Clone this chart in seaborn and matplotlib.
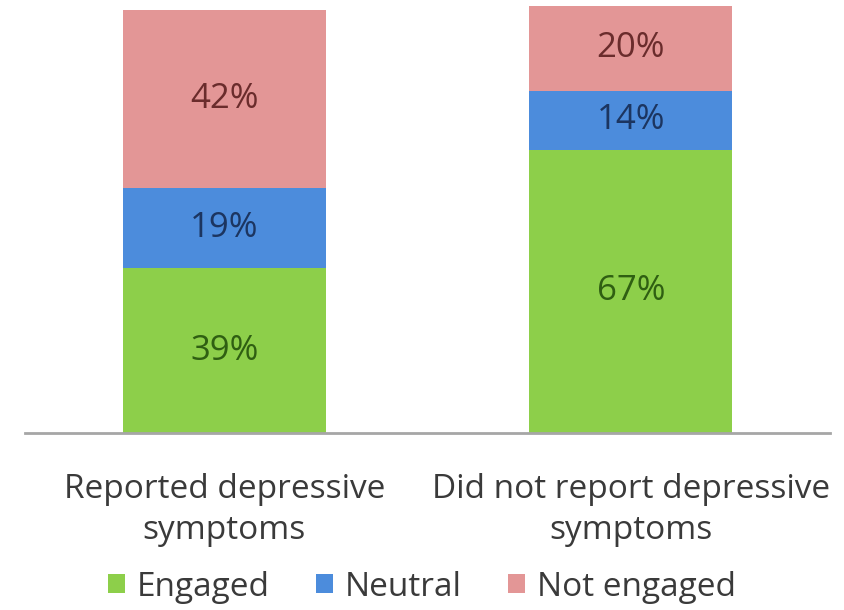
import numpy as np
import pandas as pd
import matplotlib
matplotlib.use("Agg")
import matplotlib.pyplot as plt
import seaborn as sns
from matplotlib.patches import Patch

groups = ["Reported depressive\nsymptoms", "Did not report depressive\nsymptoms"]
engaged = [39, 67]
neutral = [19, 14]
not_engaged = [42, 20]

series_names = ["Engaged", "Neutral", "Not engaged"]
fill_colors = ["#8DCF4A", "#4C8CDC", "#E39696"]
text_colors = ["#2F5F12", "#1C3560", "#6A2C2C"]

sns.set_theme(style="white")
plt.rcParams["font.family"] = ["Open Sans", "DejaVu Sans"]

df = pd.DataFrame({
    "group": groups,
    "Engaged": engaged,
    "Neutral": neutral,
    "Not engaged": not_engaged,
})
layers = [df["Engaged"].to_numpy(), df["Neutral"].to_numpy(), df["Not engaged"].to_numpy()]
tops = np.cumsum(layers, axis=0)

fig = plt.figure(figsize=(8.44, 6.10), dpi=100)
ax = fig.add_axes([25 / 844, (610 - 433) / 610, (830 - 25) / 844, (433 - 6) / 610])

# Stack by drawing cumulative totals from the top layer down
for i in reversed(range(3)):
    sns.barplot(x=df["group"], y=tops[i], color=fill_colors[i], width=0.5,
                saturation=1, ax=ax, edgecolor="none", linewidth=0)

for i in range(3):
    bottoms = tops[i] - layers[i]
    for j in range(len(groups)):
        ax.text(j, bottoms[j] + layers[i][j] / 2, f"{layers[i][j]}%",
                ha="center", va="center", fontsize=25, color=text_colors[i])

ax.set_xlim(-0.49, 1.49)
ax.set_ylim(0, 101)
ax.set_xlabel("")
ax.set_ylabel("")
ax.set_yticks([])
for side in ["top", "right", "left"]:
    ax.spines[side].set_visible(False)
ax.spines["bottom"].set_color("#A6A6A6")
ax.spines["bottom"].set_linewidth(2)
ax.tick_params(axis="x", length=0, pad=29, labelsize=24, labelcolor="#3A3A3A")
for lbl in ax.get_xticklabels():
    lbl.set_linespacing(1.3)

handles = [Patch(facecolor=c, edgecolor="none") for c in fill_colors]
fig.legend(handles, series_names, loc="center", bbox_to_anchor=(0.5, 1 - 587 / 610),
           ncol=3, frameon=False, fontsize=24, handlelength=0.5, handleheight=0.5,
           handletextpad=0.35, columnspacing=1.4, labelcolor="#3A3A3A")

fig.savefig("out.png", dpi=100, facecolor="white")
